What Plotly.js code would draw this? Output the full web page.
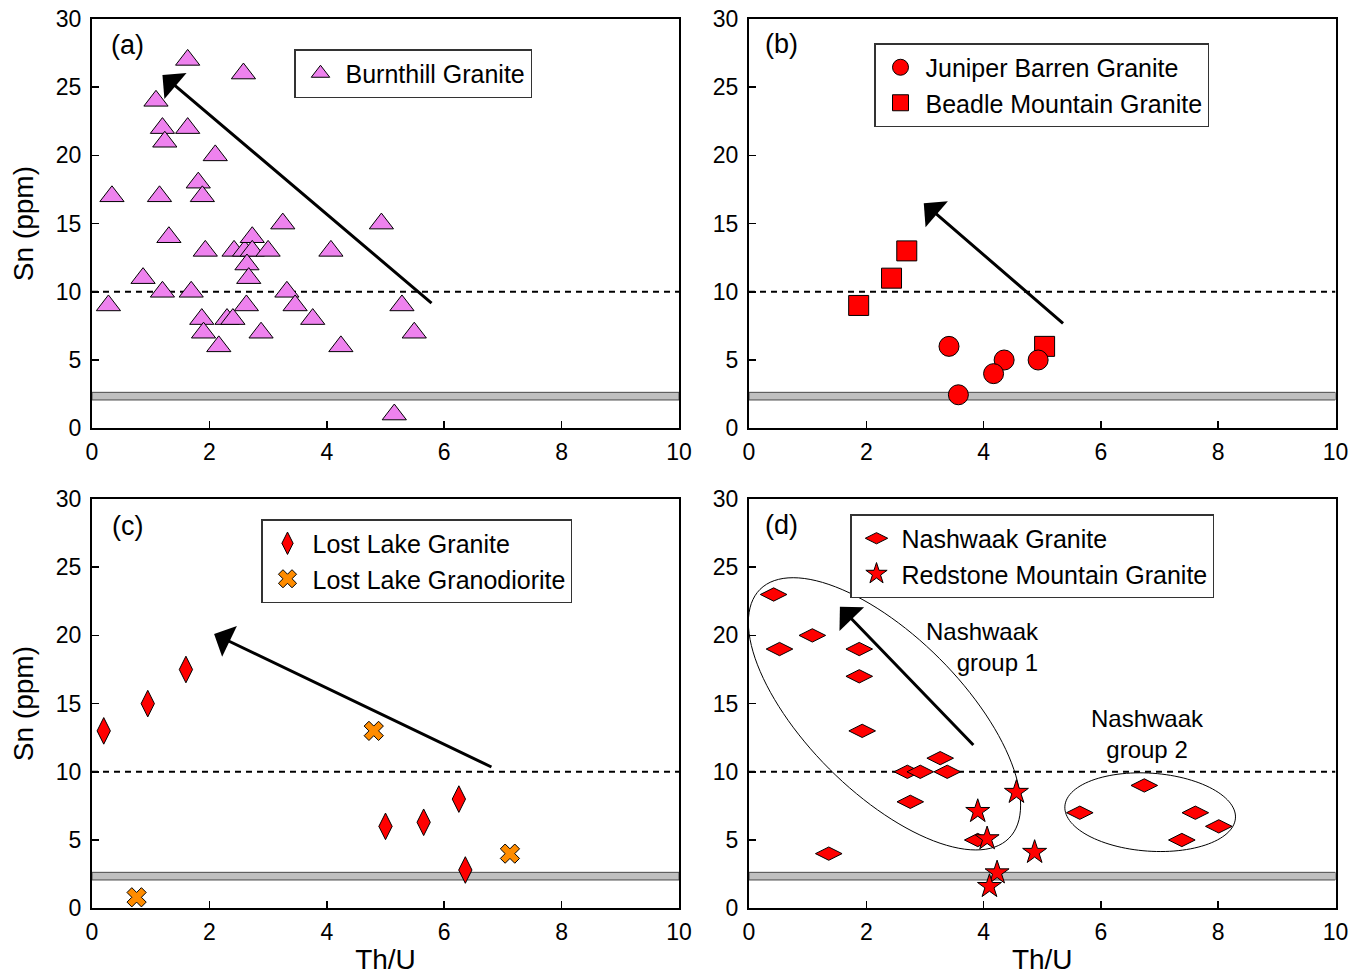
<!DOCTYPE html>
<html>
<head>
<meta charset="utf-8">
<script src="https://cdn.plot.ly/plotly-3.0.1.min.js"></script>
<style>
html,body{margin:0;padding:0;background:#fff;}
#chart{width:1359px;height:975px;}
</style>
</head>
<body>
<div id="chart"></div>
<script>
// ---------------- DATA ----------------
// Panel (a) Burnthill Granite
const burnthillThU = [1.63, 2.58, 1.09, 1.20, 1.63, 1.24, 2.10, 0.34, 1.15, 1.81,
                      1.88, 3.25, 4.93, 1.31, 1.93, 2.42, 2.60, 2.73, 2.73, 3.00,
                      4.07, 2.64, 2.67, 0.87, 1.20, 1.69, 3.32, 0.28, 2.63, 3.46,
                      5.28, 1.87, 2.30, 2.40, 3.76, 1.90, 2.88, 5.49, 2.16, 4.24, 5.15];
const burnthillSn  = [27, 26, 24, 22, 22, 21, 20, 17, 17, 18,
                      17, 15, 15, 14, 13, 13, 13, 14, 13, 13,
                      13, 12, 11, 11, 10, 10, 10, 9, 9, 9,
                      9, 8, 8, 8, 8, 7, 7, 7, 6, 6, 1];
// Panel (b)
const juniperThU = [3.41, 4.35, 4.17, 4.93, 3.57];
const juniperSn  = [6, 5, 4, 5, 2.45];
const beadleThU  = [1.87, 2.43, 2.69, 5.04];
const beadleSn   = [9, 11, 13, 6];
// Panel (c)
const lostLakeGraniteThU = [0.20, 0.95, 1.60, 5.00, 5.65, 6.25, 6.36];
const lostLakeGraniteSn  = [13, 15, 17.5, 6, 6.3, 8, 2.8];
const lostLakeGranodioriteThU = [0.76, 4.80, 7.12];
const lostLakeGranodioriteSn  = [0.8, 13, 4];
// Panel (d)
const nashwaakThU = [0.42, 0.52, 1.08, 1.88, 1.88, 1.93, 2.70, 2.92, 3.26, 3.38, 2.75, 1.36, 3.90,
                     5.64, 6.74, 7.61, 8.01, 7.38];
const nashwaakSn  = [23, 19, 20, 19, 17, 13, 10, 10, 11, 10, 7.8, 4, 5,
                     7, 9, 7, 6, 5];
const redstoneThU = [3.90, 4.06, 4.56, 4.87, 4.23, 4.10];
const redstoneSn  = [7.1, 5.1, 8.5, 4.1, 2.6, 1.6];

// Reference lines (Sn, ppm)
const dashedLevel = 10;
const bandLow = 2.07, bandHigh = 2.63;

// Trend arrows [tailThU, tailSn, headThU, headSn]
const arrowA = [5.81, 9.08, 1.20, 25.9];
const arrowB = [5.38, 7.59, 2.98, 16.5];
const arrowC = [6.83, 10.3, 2.08, 20.1];
const arrowD = [3.85, 11.85, 1.55, 22.1];

// Panel labels and texts
const panelLabels = ['(a)', '(b)', '(c)', '(d)'];
const yTitle = 'Sn (ppm)';
const xTitle = 'Th/U';

// ---------------- LAYOUT ----------------
const W = 1359, H = 975;
const FONT = 'Liberation Sans, Arial, Helvetica, sans-serif';
const leftDom = [92/W, 679/W];
const rightDom = [749/W, 1335.5/W];
const topDom = [1 - 428.2/H, 1 - 19/H];
const botDom = [1 - 908.2/H, 1 - 499/H];

function xAxis(domain, anchor, title) {
  const a = {
    domain: domain, anchor: anchor, range: [0, 10], dtick: 2, tick0: 0,
    ticks: 'inside', ticklen: 7, tickwidth: 1.5, tickcolor: '#000',
    showline: true, mirror: true, linewidth: 2, linecolor: '#000',
    showgrid: false, zeroline: false, fixedrange: true, ticklabelstandoff: 2,
    tickfont: {family: FONT, size: 23, color: '#000'}
  };
  if (title) a.title = {text: title, font: {family: FONT, size: 28, color: '#000'}, standoff: 8};
  return a;
}
function yAxis(domain, anchor, title) {
  const a = {
    domain: domain, anchor: anchor, range: [0, 30], dtick: 5, tick0: 0,
    ticks: 'inside', ticklen: 7, tickwidth: 1.5, tickcolor: '#000',
    showline: true, mirror: true, linewidth: 2, linecolor: '#000',
    showgrid: false, zeroline: false, fixedrange: true, ticklabelstandoff: 4,
    tickfont: {family: FONT, size: 23, color: '#000'}
  };
  if (title) a.title = {text: title, font: {family: FONT, size: 28, color: '#000'}, standoff: 14};
  return a;
}

const outline = {color: '#000', width: 1};
const traces = [
  {x: burnthillThU, y: burnthillSn, type: 'scatter', mode: 'markers', name: 'Burnthill Granite',
   xaxis: 'x', yaxis: 'y', legend: 'legend',
   marker: {symbol: 'triangle-up', size: 21, color: '#EE82EE', line: outline}},
  {x: beadleThU, y: beadleSn, type: 'scatter', mode: 'markers', name: 'Beadle Mountain Granite',
   xaxis: 'x2', yaxis: 'y2', legend: 'legend2', legendrank: 2,
   marker: {symbol: 'square', size: 20, color: '#FF0000', line: outline}},
  {x: juniperThU, y: juniperSn, type: 'scatter', mode: 'markers', name: 'Juniper Barren Granite',
   xaxis: 'x2', yaxis: 'y2', legend: 'legend2', legendrank: 1,
   marker: {symbol: 'circle', size: 20, color: '#FF0000', line: outline}},
  {x: lostLakeGraniteThU, y: lostLakeGraniteSn, type: 'scatter', mode: 'markers', name: 'Lost Lake Granite',
   xaxis: 'x3', yaxis: 'y3', legend: 'legend3', legendrank: 1,
   marker: {symbol: 'diamond-tall', size: 19, color: '#FF0000', line: outline}},
  {x: lostLakeGranodioriteThU, y: lostLakeGranodioriteSn, type: 'scatter', mode: 'markers', name: 'Lost Lake Granodiorite',
   xaxis: 'x3', yaxis: 'y3', legend: 'legend3', legendrank: 2,
   marker: {symbol: 'x', size: 17, color: '#FF8C00', line: outline}},
  {x: nashwaakThU, y: nashwaakSn, type: 'scatter', mode: 'markers', name: 'Nashwaak Granite',
   xaxis: 'x4', yaxis: 'y4', legend: 'legend4', legendrank: 1,
   marker: {symbol: 'diamond-wide', size: 19, color: '#FF0000', line: outline}},
  {x: redstoneThU, y: redstoneSn, type: 'scatter', mode: 'markers', name: 'Redstone Mountain Granite',
   xaxis: 'x4', yaxis: 'y4', legend: 'legend4', legendrank: 2,
   marker: {symbol: 'star', size: 18, color: '#FF0000', line: outline}}
];

// shapes
const axPairs = [['x','y'], ['x2','y2'], ['x3','y3'], ['x4','y4']];
const shapes = [];
axPairs.forEach(function(p) {
  shapes.push({type: 'rect', xref: p[0], yref: p[1], x0: 0, x1: 10, y0: bandLow, y1: bandHigh,
               fillcolor: '#C0C0C0', line: {color: '#4a4a4a', width: 1}, layer: 'below'});
  shapes.push({type: 'line', xref: p[0], yref: p[1], x0: 0, x1: 10, y0: dashedLevel, y1: dashedLevel,
               line: {color: '#000', width: 2, dash: '6px,5px'}, layer: 'below'});
});

// ellipse outlines (panel d) – centre in data units, semi-axes in px, tilt in degrees
const pxPerX = 586.5 / 10, pxPerY = 409.2 / 30;
function ellipsePath(cx, cy, aPx, bPx, deg) {
  const t = deg * Math.PI / 180;
  let d = '';
  for (let i = 0; i <= 120; i++) {
    const u = 2 * Math.PI * i / 120;
    const ex = aPx * Math.cos(u), ey = bPx * Math.sin(u);
    const px = ex * Math.cos(t) - ey * Math.sin(t);
    const py = ex * Math.sin(t) + ey * Math.cos(t);
    const X = cx + px / pxPerX, Y = cy - py / pxPerY;
    d += (i === 0 ? 'M' : 'L') + X.toFixed(4) + ',' + Y.toFixed(4);
  }
  return d + 'Z';
}
shapes.push({type: 'path', xref: 'x4', yref: 'y4', path: ellipsePath(2.31, 14.25, 176, 78, 45),
             line: {color: '#000', width: 1}, layer: 'below'});
shapes.push({type: 'path', xref: 'x4', yref: 'y4', path: ellipsePath(6.84, 7.04, 85.5, 39, 4),
             line: {color: '#000', width: 1}, layer: 'below'});

// annotations
const annotations = [];
function arrow(arr, xr, yr) {
  annotations.push({xref: xr, yref: yr, axref: xr, ayref: yr,
    x: arr[2], y: arr[3], ax: arr[0], ay: arr[1], text: '', showarrow: true,
    arrowhead: 1, arrowsize: 1.9, arrowwidth: 3, arrowcolor: '#000', standoff: 0, startstandoff: 0});
}
arrow(arrowA, 'x', 'y');
arrow(arrowB, 'x2', 'y2');
arrow(arrowC, 'x3', 'y3');
arrow(arrowD, 'x4', 'y4');

const labelPos = [[0.61, 28.1], [0.56, 28.2], [0.60, 28.0], [0.55, 28.1]];
panelLabels.forEach(function(t, i) {
  annotations.push({xref: axPairs[i][0], yref: axPairs[i][1], x: labelPos[i][0], y: labelPos[i][1],
    text: t, showarrow: false, xanchor: 'center', yanchor: 'middle',
    font: {family: FONT, size: 27, color: '#000'}});
});
annotations.push({xref: 'x4', yref: 'y4', x: 4.98, y: 19.15, text: 'Nashwaak<br>group 1',
  showarrow: false, xanchor: 'right', yanchor: 'middle', align: 'right',
  font: {family: FONT, size: 24, color: '#000'}});
annotations.push({xref: 'x4', yref: 'y4', x: 6.79, y: 12.77, text: 'Nashwaak<br>group 2',
  showarrow: false, xanchor: 'center', yanchor: 'middle', align: 'center',
  font: {family: FONT, size: 24, color: '#000'}});

function legendBox(xpx, ypx) {
  return {x: xpx / W, y: 1 - ypx / H, xanchor: 'left', yanchor: 'top',
    bgcolor: '#fff', bordercolor: '#333', borderwidth: 1.5, itemwidth: 40,
    font: {family: FONT, size: 25, color: '#000'}, itemsizing: 'trace', traceorder: 'normal'};
}

const layout = {
  width: W, height: H, margin: {l: 0, r: 0, t: 0, b: 0},
  paper_bgcolor: '#fff', plot_bgcolor: '#fff', showlegend: true,
  font: {family: FONT, color: '#000'},
  xaxis: xAxis(leftDom, 'y'),
  yaxis: yAxis(topDom, 'x', yTitle),
  xaxis2: xAxis(rightDom, 'y2'),
  yaxis2: yAxis(topDom, 'x2'),
  xaxis3: xAxis(leftDom, 'y3', xTitle),
  yaxis3: yAxis(botDom, 'x3', yTitle),
  xaxis4: xAxis(rightDom, 'y4', xTitle),
  yaxis4: yAxis(botDom, 'x4'),
  legend: legendBox(294, 49),
  legend2: legendBox(874, 43),
  legend3: legendBox(261, 519),
  legend4: legendBox(850, 514),
  shapes: shapes,
  annotations: annotations
};

Plotly.newPlot('chart', traces, layout, {displayModeBar: false, staticPlot: true});
</script>
</body>
</html>
